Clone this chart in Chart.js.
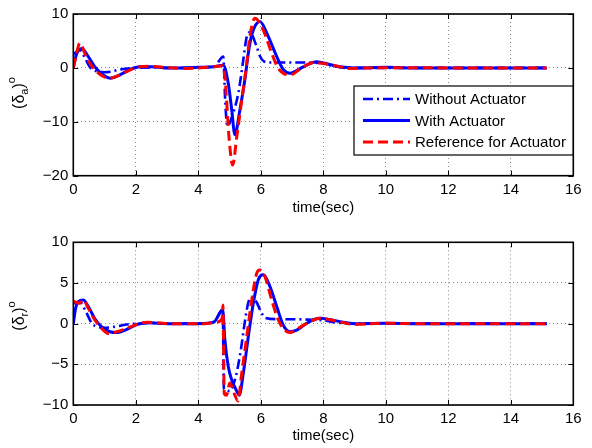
<!DOCTYPE html>
<html><head><meta charset="utf-8">
<script src="https://cdn.jsdelivr.net/npm/chart.js@4"></script>
<style>
html,body{margin:0;padding:0;background:#fff;}
#wrap{position:relative;width:592px;height:448px;overflow:hidden;}
canvas{position:absolute;left:0;}
</style>
</head><body>
<div id="wrap">
<canvas id="c1" width="592" height="224" style="top:0"></canvas>
<canvas id="c2" width="592" height="224" style="top:224px"></canvas>
</div>
<script>
// ---------- data ----------
const seriesLabels = ['Without Actuator', 'With Actuator', 'Reference for Actuator'];
const xTicks = [0, 2, 4, 6, 8, 10, 12, 14, 16];
const yTicksA = [-20, -10, 0, 10];
const yTicksR = [-10, -5, 0, 5, 10];
const xTitle = 'time(sec)';
// y titles: (δ_a)^o and (δ_r)^o  — base, subscript, superscript
const yTitleA = ['(δ', 'a', ')', 'o'];
const yTitleR = ['(δ', 'r', ')', 'o'];

// top panel: aileron deflection
const tA_without = [0, 0.1, 0.21, 0.4, 0.55, 0.8, 1.0, 1.2, 1.5, 2.0, 2.5, 3, 3.5, 4, 4.5, 4.8, 4.86, 4.93, 5.05, 5.28, 5.44, 5.55, 5.65, 5.87, 5.97, 6.1, 6.29, 7.0, 7.36, 7.9, 8.3, 8.7, 9, 10, 12, 14, 15.15];
const vA_without = [2.5, 3.0, 3.3, 1.5, 0, -0.7, -0.8, -0.7, -0.3, 0, 0.1, 0, 0, 0.1, 0.2, 2.1, -6, -10.8, -9.5, -4.7, 1.5, 5.8, 6.6, 3.9, 2.2, 1.2, 1.0, 1.0, 1.0, 0.9, 0.4, 0, 0, 0, 0, 0, 0];

const tA_with = [0, 0.1, 0.27, 0.48, 0.69, 0.96, 1.2, 1.49, 1.81, 2.13, 2.5, 3.0, 3.5, 4.0, 4.5, 4.8, 4.96, 5.07, 5.17, 5.33, 5.49, 5.60, 5.71, 5.97, 6.24, 6.51, 6.72, 6.93, 7.36, 7.79, 8.0, 8.53, 9, 10, 11, 12, 13, 14, 15.15];
const vA_with = [0, 2.5, 3.6, 2.1, 0.2, -1.3, -1.9, -1.3, -0.3, 0.2, 0.2, 0, 0, 0.1, 0.2, 0.5, -2.9, -7.8, -12.4, -7.8, -2.2, 2.7, 6.1, 8.6, 5.8, 2.1, -0.3, -1.0, 0.2, 1.15, 0.9, 0.2, 0, 0.1, 0, 0, 0, 0, 0];

const tA_ref = [0, 0.08, 0.21, 0.37, 0.53, 0.75, 0.96, 1.17, 1.49, 1.81, 2.13, 2.45, 3.0, 3.5, 4.0, 4.5, 4.78, 4.85, 4.99, 5.10, 5.23, 5.39, 5.55, 5.65, 5.81, 6.08, 6.35, 6.56, 6.93, 7.36, 7.7, 7.9, 8.43, 8.8, 9.5, 10.5, 12, 13.5, 15.15];
const vA_ref = [0, 2.0, 4.6, 2.7, 0.85, -0.7, -1.6, -1.9, -1.3, -0.4, 0.2, 0.3, 0.05, -0.1, 0, 0.2, 0.4, -1.6, -13.4, -18, -12.8, -6, 0.85, 5.8, 9.2, 7.0, 2.7, -0.1, -1.3, 0.2, 1.0, 0.9, 0.35, -0.1, 0, 0.05, 0, 0, 0];

// bottom panel: rudder deflection
const tR_without = [0, 0.2, 0.4, 0.6, 0.8, 1.0, 1.3, 1.7, 2.0, 2.5, 3, 4, 4.5, 4.78, 4.82, 4.9, 5.0, 5.2, 5.35, 5.5, 5.6, 5.72, 5.87, 6.0, 6.15, 6.5, 7.0, 7.5, 8.0, 8.5, 9, 10, 12, 14, 15.15];
const vR_without = [2.5, 2.7, 1.5, 0, -0.4, -0.5, -0.4, -0.1, 0, 0.1, 0, 0, 0.2, 1.7, -8.0, -8.2, -8.3, -6.5, -3.5, 0.5, 2.6, 3.3, 2.6, 1.5, 0.7, 0.55, 0.55, 0.5, 0.4, 0.1, 0, 0, 0, 0, 0];

const tR_with = [0, 0.08, 0.16, 0.32, 0.48, 0.69, 0.91, 1.17, 1.39, 1.71, 2.03, 2.4, 3, 3.5, 4, 4.5, 4.78, 4.85, 4.96, 5.07, 5.23, 5.31, 5.44, 5.6, 5.76, 5.92, 6.08, 6.29, 6.51, 6.72, 6.93, 7.15, 7.47, 7.89, 8.21, 8.53, 9, 10, 11, 12, 13, 14, 15.15];
const vR_with = [0, 2.0, 2.7, 2.9, 2.1, 0.6, -0.4, -1.0, -1.1, -0.7, -0.1, 0.1, 0, 0, 0, 0.2, 1.7, -2.0, -5.3, -6.9, -8.3, -8.8, -6.1, -1.6, 2.5, 5.4, 6.0, 4.6, 2.1, -0.2, -1.0, -0.8, 0.05, 0.66, 0.5, 0.25, 0, 0.05, 0, 0, 0, 0, 0];

const tR_ref = [0, 0.1, 0.2, 0.32, 0.48, 0.69, 0.91, 1.12, 1.39, 1.71, 2.03, 2.35, 2.7, 3.2, 3.7, 4.2, 4.6, 4.76, 4.79, 4.83, 4.9, 5.01, 5.15, 5.27, 5.39, 5.55, 5.71, 5.87, 5.97, 6.13, 6.35, 6.56, 6.72, 6.93, 7.25, 7.68, 7.89, 8.43, 9.0, 9.5, 10, 11, 12, 13, 14, 15.15];
const vR_ref = [2.8, 2.6, 2.5, 2.9, 1.9, 0.45, -0.6, -1.2, -1.0, -0.6, -0.1, 0.17, 0.1, 0, 0, 0, 0.2, 0.6, 2.3, -8.6, -8.8, -7.3, -8.6, -9.5, -6.1, -1.6, 2.9, 6.2, 6.6, 5.8, 2.9, 0.45, -0.6, -1.1, -0.45, 0.45, 0.66, 0.3, -0.1, 0, 0.05, 0, 0, 0, 0, 0];

// ---------- styles ----------
const FONT = '"Liberation Sans", Arial, Helvetica, sans-serif';
Chart.defaults.font.family = FONT;
Chart.defaults.font.size = 15;
Chart.defaults.color = '#000';

const styles = [
  {borderColor: '#0000ff', borderWidth: 2.6, borderDash: [10, 4, 2, 4], order: 2},
  {borderColor: '#0000ff', borderWidth: 3, borderDash: [], order: 1},
  {borderColor: '#ff0000', borderWidth: 3, borderDash: [10, 5], order: 0}
];

function pts(t, v) { return t.map((x, i) => ({x: x, y: v[i]})); }

function makeDatasets(series) {
  return series.map((s, i) => Object.assign({
    label: seriesLabels[i],
    data: pts(s[0], s[1]),
    pointRadius: 0,
    fill: false,
    cubicInterpolationMode: 'monotone',
    borderCapStyle: 'butt',
    borderJoinStyle: 'round'
  }, styles[i]));
}

const fmtTick = v => String(v).replace('-', '\u2212');

const framePlugin = {
  id: 'frame',
  afterDraw(chart, args, opts) {
    const ctx = chart.ctx, a = chart.chartArea;
    const xs = chart.scales.x, ys = chart.scales.y;
    ctx.save();
    ctx.strokeStyle = '#000';
    ctx.lineWidth = 1;
    // inward tick marks
    ctx.beginPath();
    xs.ticks.forEach(t => {
      const px = Math.round(xs.getPixelForValue(t.value)) + 0.5;
      ctx.moveTo(px, a.bottom); ctx.lineTo(px, a.bottom - 5);
      ctx.moveTo(px, a.top); ctx.lineTo(px, a.top + 5);
    });
    ys.ticks.forEach(t => {
      const py = Math.round(ys.getPixelForValue(t.value)) + 0.5;
      ctx.moveTo(a.left, py); ctx.lineTo(a.left + 5, py);
      ctx.moveTo(a.right, py); ctx.lineTo(a.right - 5, py);
    });
    ctx.stroke();
    ctx.lineWidth = 1.6;
    ctx.strokeRect(a.left, a.top, a.right - a.left, a.bottom - a.top);

    // rotated y title with subscript and superscript
    if (opts && opts.yTitle) {
      const parts = opts.yTitle;
      const big = '16px ' + FONT, small = '11px ' + FONT;
      const spec = [
        {t: parts[0], f: big, dy: 0},
        {t: parts[1], f: small, dy: 5},
        {t: parts[2], f: big, dy: 0},
        {t: parts[3], f: small, dy: -8}
      ];
      let w = 0;
      spec.forEach(s => { ctx.font = s.f; s.w = ctx.measureText(s.t).width; w += s.w; });
      ctx.save();
      ctx.translate(opts.yTitleX, opts.yTitleY);
      ctx.rotate(-Math.PI / 2);
      ctx.fillStyle = '#000';
      ctx.textBaseline = 'middle';
      ctx.textAlign = 'left';
      let x = -w / 2;
      spec.forEach(s => { ctx.font = s.f; ctx.fillText(s.t, x, s.dy); x += s.w; });
      ctx.restore();
    }

    // legend
    if (opts && opts.legend) {
      const L = opts.legend;
      ctx.fillStyle = '#fff';
      ctx.fillRect(L.x, L.y, L.w, L.h);
      ctx.lineWidth = 1.2;
      ctx.strokeStyle = '#000';
      ctx.strokeRect(L.x, L.y, L.w, L.h);
      ctx.font = '15px ' + FONT;
      ctx.textBaseline = 'middle';
      ctx.textAlign = 'left';
      chart.data.datasets.forEach((ds, i) => {
        const yy = L.y + L.row0 + i * L.rowH;
        ctx.save();
        ctx.strokeStyle = ds.borderColor;
        ctx.lineWidth = ds.borderWidth;
        ctx.setLineDash(ds.borderDash || []);
        ctx.beginPath();
        ctx.moveTo(L.x + 9, yy); ctx.lineTo(L.x + 56, yy);
        ctx.stroke();
        ctx.restore();
        ctx.fillStyle = '#000';
        ctx.fillText(ds.label, L.x + 61, yy + 1);
      });
    }
    ctx.restore();
  }
};

function makeChart(id, series, yTicks, yTitle, yTitleY, padTop, xAxisH, xTitlePad, legend) {
  return new Chart(document.getElementById(id), {
    type: 'line',
    data: {datasets: makeDatasets(series)},
    plugins: [framePlugin],
    options: {
      responsive: false,
      animation: false,
      events: [],
      layout: {padding: {top: padTop, right: 18.7, left: 0, bottom: 0}},
      plugins: {
        legend: {display: false}, tooltip: {enabled: false},
        frame: {legend: legend, yTitle: yTitle, yTitleX: 20, yTitleY: yTitleY}
      },
      scales: {
        x: {
          type: 'linear', min: xTicks[0], max: xTicks[xTicks.length - 1],
          afterBuildTicks: s => { s.ticks = xTicks.map(v => ({value: v})); },
          afterFit: s => { s.height = xAxisH; },
          ticks: {padding: 5, color: '#000', font: {size: 15}, maxRotation: 0, callback: fmtTick},
          grid: {color: '#8a8a8a', lineWidth: 1, drawTicks: false},
          border: {display: false, dash: [1, 3]},
          title: {display: true, text: xTitle, color: '#000', font: {size: 15}, padding: {top: 0, bottom: xTitlePad}}
        },
        y: {
          type: 'linear', min: yTicks[0], max: yTicks[yTicks.length - 1],
          afterBuildTicks: s => { s.ticks = yTicks.map(v => ({value: v})); },
          afterFit: s => { s.width = 73.3; },
          ticks: {padding: 5, color: '#000', font: {size: 15}, callback: fmtTick},
          grid: {color: '#8a8a8a', lineWidth: 1, drawTicks: false},
          border: {display: false, dash: [1, 3]},
          title: {display: false}
        }
      }
    }
  });
}

makeChart('c1',
  [[tA_without, vA_without], [tA_with, vA_with], [tA_ref, vA_ref]],
  yTicksA, yTitleA, 93, 14, 48.3, 7,
  {x: 354, y: 86, w: 219, h: 69, row0: 13, rowH: 21.5});

makeChart('c2',
  [[tR_without, vR_without], [tR_with, vR_with], [tR_ref, vR_ref]],
  yTicksR, yTitleR, 92, 18.3, 43, 3, null);
</script>
</body></html>
